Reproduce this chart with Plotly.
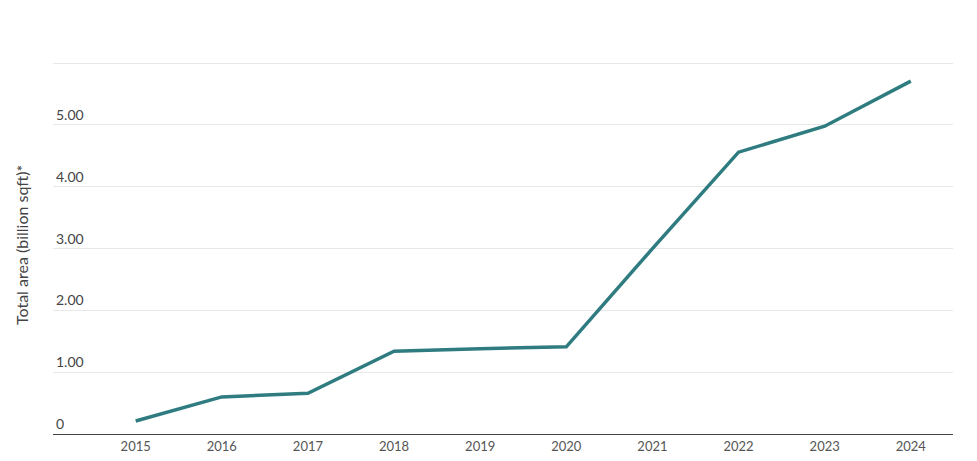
import plotly.graph_objects as go

years = [2015, 2016, 2017, 2018, 2019, 2020, 2021, 2022, 2023, 2024]
area = [0.21, 0.60, 0.66, 1.34, 1.38, 1.41, 3.00, 4.56, 4.98, 5.71]
tick_vals = [0, 1, 2, 3, 4, 5, 6]
tick_text = ["0", "1.00", "2.00", "3.00", "4.00", "5.00", "6.00"]

fig = go.Figure()
fig.add_trace(go.Scatter(x=years, y=area, mode="lines",
                         line=dict(color="#2f7c80", width=3.5)))

fig.update_layout(
    width=977, height=461,
    margin=dict(l=45, r=32, t=49, b=35, autoexpand=False),
    plot_bgcolor="white", paper_bgcolor="white",
    font=dict(family="Lato", color="#555555", size=14),
    showlegend=False,
)
fig.add_annotation(text="Total area (billion sqft)*", textangle=-90,
                   xref="paper", yref="paper", x=-0.035, y=0.5,
                   xanchor="center", yanchor="middle", showarrow=False,
                   font=dict(size=16, color="#444444"))
fig.update_xaxes(range=[2014.04, 2024.49], tickvals=years, showgrid=False,
                 showline=True, linecolor="#444444", linewidth=1,
                 tickfont=dict(size=13), automargin=False)
fig.update_yaxes(range=[0, 6.1], tickvals=tick_vals, ticktext=tick_text,
                 ticklabelposition="inside top", showgrid=True,
                 gridcolor="#e8e8e8", zeroline=False, automargin=False,
                 tickfont=dict(size=14))

fig.write_html("out.html")
